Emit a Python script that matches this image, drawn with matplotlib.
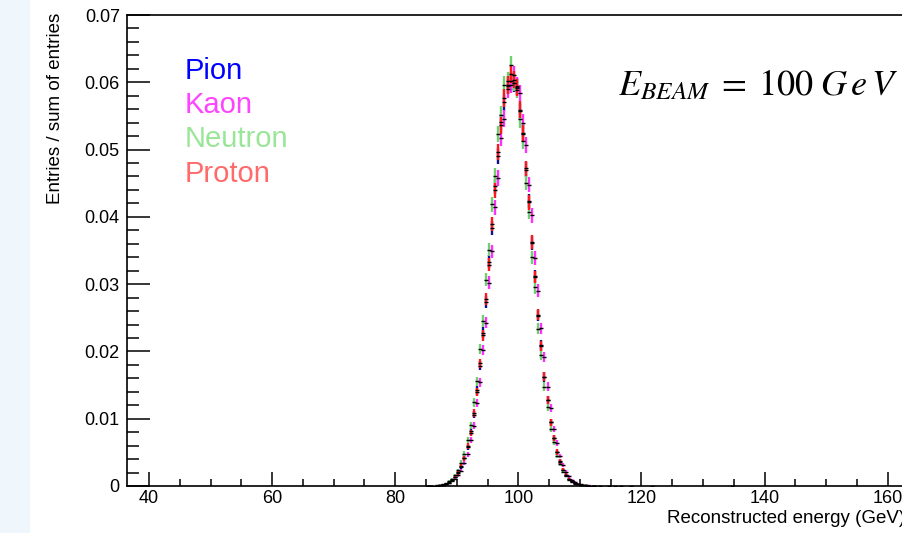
import numpy as np
import matplotlib
matplotlib.use('Agg')
import matplotlib.pyplot as plt
from matplotlib.patches import Rectangle
from matplotlib.ticker import MultipleLocator

plt.rcParams['font.family'] = ['Liberation Sans', 'DejaVu Sans']
plt.rcParams['mathtext.fontset'] = 'stix'

# %% data: normalised energy spectra, 0.5 GeV bins from 85 to 112.5 GeV
bin_lo = 85.0
bin_width = 0.5
n_events = 35000  # used only for the Poisson error bars

pion = [0.00001, 0.00002, 0.00004, 0.00006, 0.00013, 0.00019, 0.00034, 0.00052, 0.00088, 0.00127,
        0.00201, 0.00283, 0.00421, 0.00576, 0.00812, 0.01061, 0.01420, 0.01789, 0.02281, 0.02741,
        0.03335, 0.03832, 0.04452, 0.04898, 0.05411, 0.05702, 0.05951, 0.06020, 0.05988, 0.05935,
        0.05571, 0.05251, 0.04702, 0.04236, 0.03611, 0.03120, 0.02531, 0.02098, 0.01620, 0.01281,
        0.00947, 0.00716, 0.00503, 0.00366, 0.00243, 0.00170, 0.00107, 0.00073, 0.00044, 0.00028,
        0.00015, 0.00010, 0.00006, 0.00003, 0.00001]
kaon = [0.00001, 0.00001, 0.00003, 0.00005, 0.00010, 0.00014, 0.00026, 0.00040, 0.00068, 0.00101,
        0.00161, 0.00229, 0.00347, 0.00473, 0.00684, 0.00896, 0.01231, 0.01540, 0.02018, 0.02425,
        0.03021, 0.03489, 0.04141, 0.04578, 0.05172, 0.05461, 0.05903, 0.05966, 0.06112, 0.05941,
        0.05836, 0.05402, 0.05072, 0.04478, 0.04021, 0.03387, 0.02905, 0.02341, 0.01918, 0.01476,
        0.01157, 0.00849, 0.00637, 0.00446, 0.00319, 0.00213, 0.00146, 0.00093, 0.00061, 0.00037,
        0.00023, 0.00013, 0.00008, 0.00005, 0.00003]
neutron = [0.00001, 0.00003, 0.00005, 0.00009, 0.00014, 0.00026, 0.00041, 0.00069, 0.00101, 0.00162,
           0.00231, 0.00349, 0.00479, 0.00690, 0.00905, 0.01241, 0.01558, 0.02039, 0.02451, 0.03065,
           0.03512, 0.04187, 0.04612, 0.05231, 0.05520, 0.05961, 0.06025, 0.06262, 0.05994, 0.05890,
           0.05448, 0.05130, 0.04508, 0.04071, 0.03401, 0.02952, 0.02339, 0.01951, 0.01478, 0.01178,
           0.00848, 0.00649, 0.00446, 0.00325, 0.00213, 0.00149, 0.00093, 0.00063, 0.00037, 0.00024,
           0.00014, 0.00008, 0.00005, 0.00003, 0.00001]
proton = [0.00001, 0.00002, 0.00004, 0.00007, 0.00011, 0.00021, 0.00032, 0.00055, 0.00083, 0.00134,
          0.00193, 0.00294, 0.00409, 0.00591, 0.00789, 0.01087, 0.01396, 0.01821, 0.02241, 0.02782,
          0.03290, 0.03889, 0.04398, 0.04961, 0.05361, 0.05768, 0.05962, 0.06123, 0.06041, 0.05922,
          0.05589, 0.05237, 0.04721, 0.04219, 0.03628, 0.03104, 0.02546, 0.02083, 0.01627, 0.01279,
          0.00951, 0.00712, 0.00506, 0.00363, 0.00245, 0.00169, 0.00108, 0.00072, 0.00046, 0.00026,
          0.00017, 0.00009, 0.00006, 0.00003, 0.00002]

# a few isolated entries far out in the tail
pion_tail_x, pion_tail_y = [114.75, 118.25], [0.00002, 0.00001]
kaon_tail_x, kaon_tail_y = [115.75, 121.75], [0.00002, 0.00002]
neutron_tail_x, neutron_tail_y = [113.25], [0.00001]
proton_tail_x, proton_tail_y = [116.75, 134.75], [0.00001, 0.00001]

labels = ['Pion', 'Kaon', 'Neutron', 'Proton']
bar_colors = ['#10108c', '#ff30ff', '#70d070', '#ff1818']
text_colors = ['#0000ff', '#ff44ff', '#99e699', '#ff6b6b']

x_ticks = [40, 60, 80, 100, 120, 140, 160]
y_ticks = [0, 0.01, 0.02, 0.03, 0.04, 0.05, 0.06, 0.07]
y_ticklabels = ['0', '0.01', '0.02', '0.03', '0.04', '0.05', '0.06', '0.07']

# %% figure
W, H = 903, 533
fig = plt.figure(figsize=(W / 100, H / 100), dpi=100)
fig.add_artist(Rectangle((0, 0), 30 / W, 1, transform=fig.transFigure,
                         facecolor='#f0f7fc', edgecolor='none', zorder=0))

ax = fig.add_axes([126.7 / W, 47 / H, 1 - 126.7 / W, (486 - 15) / H])
ax.set_xlim(36.38, 162.49)
ax.set_ylim(0, 0.07)

centers = bin_lo + bin_width / 2 + bin_width * np.arange(len(pion))
series = [(pion, pion_tail_x, pion_tail_y), (kaon, kaon_tail_x, kaon_tail_y),
          (neutron, neutron_tail_x, neutron_tail_y), (proton, proton_tail_x, proton_tail_y)]

for (vals, tx, ty), col in zip(series, bar_colors):
    x = np.concatenate([centers, tx])
    y = np.concatenate([np.array(vals), np.array(ty)])
    err = np.sqrt(y / n_events)
    ax.errorbar(x, y, yerr=err, fmt='none', ecolor=col, elinewidth=1.7, capsize=0, zorder=3)
    ax.plot(x, y, ls='none', marker='_', ms=2.6, mew=1.0, color='black', zorder=4)

# axes style (ROOT-like, ticks inside)
for s in ['left', 'bottom', 'top']:
    ax.spines[s].set_linewidth(1.2)
ax.spines['right'].set_visible(False)
ax.set_xticks(x_ticks)
ax.xaxis.set_minor_locator(MultipleLocator(5))
ax.set_yticks(y_ticks)
ax.set_yticklabels(y_ticklabels)
ax.yaxis.set_minor_locator(MultipleLocator(0.002))
ax.tick_params(axis='y', which='major', direction='in', length=16.5, width=1.1,
               labelsize=13, pad=5)
ax.tick_params(axis='y', which='minor', direction='in', length=8.5, width=1.1)
ax.tick_params(axis='x', which='major', direction='in', length=10, width=1.1,
               labelsize=13, pad=3)
ax.tick_params(axis='x', which='minor', direction='in', length=5, width=1.1)

# axis titles
fig.text(56 / W, 1 - 13 / H, 'Entries / sum of entries', rotation=90,
         ha='center', va='top', fontsize=13.5)
fig.text(666.7 / W, 1 - 523.3 / H, 'Reconstructed energy (GeV)',
         ha='left', va='baseline', fontsize=13.5)

# legend-like coloured labels
for lab, col, yb in zip(labels, text_colors, [79, 113.3, 147.5, 181.7]):
    fig.text(185 / W, 1 - yb / H, lab, color=col, fontsize=21, va='baseline', ha='left')

fig.text(618 / W, 1 - 95 / H, r'$E_{BEAM}\;=\;100\;G\,e\,V$', fontsize=26,
         ha='left', va='baseline')

fig.savefig('out.png', dpi=100)
